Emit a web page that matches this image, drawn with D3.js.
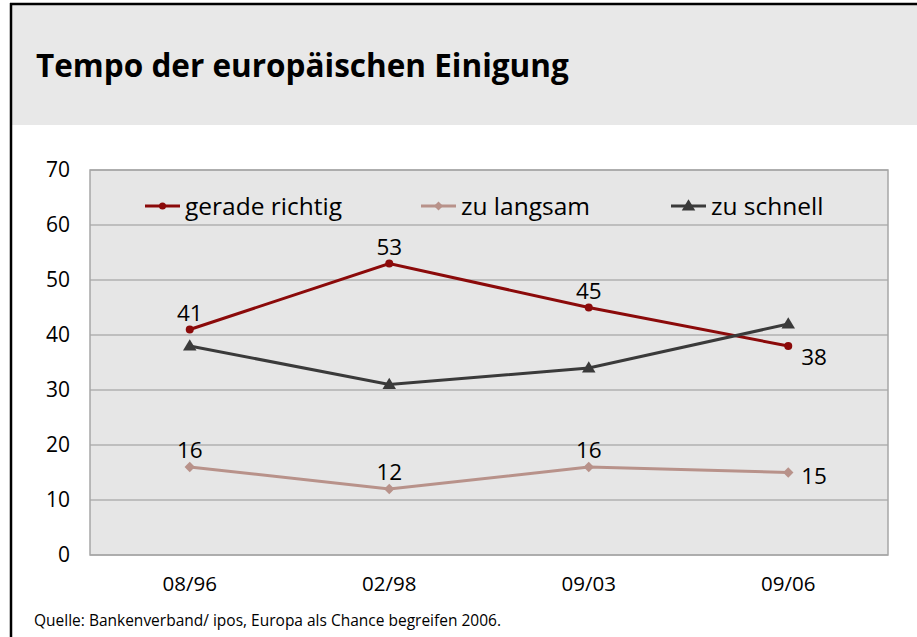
<!DOCTYPE html>
<html>
<head>
<meta charset="utf-8">
<script src="https://cdn.jsdelivr.net/npm/d3@7"></script>
<style>
  body { margin: 0; background: #fff; }
  svg { display: block; font-family: "Open Sans", "Noto Sans", sans-serif; }
</style>
</head>
<body>
<svg id="chart"></svg>
<script>
const categories = ["08/96", "02/98", "09/03", "09/06"];
const geradeRichtig = [41, 53, 45, 38];
const zuLangsam = [16, 12, 16, 15];
const zuSchnell = [38, 31, 34, 42];
const yTicks = [0, 10, 20, 30, 40, 50, 60, 70];

const width = 917;
const height = 637;
const plot = { left: 90, right: 888, top: 170, bottom: 555 };

// label placement: "above", "belowRight", "right"
const series = [
  { name: "gerade richtig", values: geradeRichtig, color: "#8b0a0a", marker: "circle", labels: ["above", "above", "above", "belowRight"] },
  { name: "zu langsam", values: zuLangsam, color: "#b8928a", marker: "diamond", labels: ["above", "above", "above", "right"] },
  { name: "zu schnell", values: zuSchnell, color: "#3a3a3a", marker: "triangle", labels: null }
];

const svg = d3.select("#chart").attr("width", width).attr("height", height);

// frame + header
svg.append("rect").attr("x", 12).attr("y", 5).attr("width", width - 12).attr("height", 120).attr("fill", "#e8e8e8");
svg.append("line").attr("x1", 10).attr("x2", width).attr("y1", 4).attr("y2", 4).attr("stroke", "#000").attr("stroke-width", 2.5);
svg.append("line").attr("x1", 11).attr("x2", 11).attr("y1", 3).attr("y2", height).attr("stroke", "#000").attr("stroke-width", 2.5);

svg.append("text")
  .attr("x", 36).attr("y", 77)
  .attr("font-size", 31.5).attr("font-weight", "bold")
  .attr("fill", "#000")
  .text("Tempo der europäischen Einigung");

const x = d3.scaleBand().domain(categories).range([plot.left, plot.right]).padding(0);
const y = d3.scaleLinear().domain([0, 70]).range([plot.bottom, plot.top]);
const cx = (c) => x(c) + x.bandwidth() / 2;

// plot background
svg.append("rect")
  .attr("x", plot.left).attr("y", plot.top)
  .attr("width", plot.right - plot.left).attr("height", plot.bottom - plot.top)
  .attr("fill", "#e6e6e6");

// gridlines
svg.append("g")
  .selectAll("line")
  .data(yTicks)
  .join("line")
  .attr("x1", plot.left).attr("x2", plot.right)
  .attr("y1", (d) => y(d)).attr("y2", (d) => y(d))
  .attr("stroke", "#b0b0b0").attr("stroke-width", 1.5);

svg.append("rect")
  .attr("x", plot.left).attr("y", plot.top)
  .attr("width", plot.right - plot.left).attr("height", plot.bottom - plot.top)
  .attr("fill", "none").attr("stroke", "#a6a6a6").attr("stroke-width", 1.5);

// Y-axis
const yAxis = svg.append("g")
  .attr("transform", `translate(${plot.left}, 0)`)
  .call(d3.axisLeft(y).tickValues(yTicks).tickSize(0).tickPadding(20));
yAxis.select(".domain").remove();
yAxis.selectAll("text").attr("font-size", 21).attr("font-family", "Open Sans, sans-serif").attr("fill", "#000").attr("dy", "0.32em");

// X-axis
const xAxis = svg.append("g")
  .attr("transform", `translate(0, ${plot.bottom})`)
  .call(d3.axisBottom(x).tickSize(0).tickPadding(21));
xAxis.select(".domain").remove();
xAxis.selectAll("text").attr("font-size", 20.5).attr("font-family", "Open Sans, sans-serif").attr("fill", "#000");

const line = d3.line().x((d, i) => cx(categories[i])).y((d) => y(d));

function marker(g, type, color, px, py, size) {
  if (type === "circle") {
    g.append("circle").attr("cx", px).attr("cy", py).attr("r", size).attr("fill", color);
  } else if (type === "diamond") {
    g.append("path").attr("d", `M${px},${py - size * 1.3}L${px + size * 1.3},${py}L${px},${py + size * 1.3}L${px - size * 1.3},${py}Z`).attr("fill", color);
  } else {
    g.append("path").attr("d", `M${px},${py - size * 1.5}L${px + size * 1.5},${py + size}L${px - size * 1.5},${py + size}Z`).attr("fill", color);
  }
}

const labelDx = { above: 0, belowRight: 13, right: 13 };
const labelDy = { above: -9, belowRight: 19, right: 4 };

series.forEach((s) => {
  const g = svg.append("g");
  g.append("path")
    .datum(s.values)
    .attr("d", line)
    .attr("fill", "none")
    .attr("stroke", s.color)
    .attr("stroke-width", 3);
  s.values.forEach((v, i) => {
    marker(g, s.marker, s.color, cx(categories[i]), y(v), s.marker === "triangle" ? 4.5 : 4);
  });
  if (s.labels) {
    g.selectAll("text")
      .data(s.values)
      .join("text")
      .attr("x", (d, i) => cx(categories[i]) + labelDx[s.labels[i]])
      .attr("y", (d, i) => y(d) + labelDy[s.labels[i]])
      .attr("dy", (d, i) => s.labels[i] === "right" ? "0.35em" : null)
      .attr("text-anchor", (d, i) => s.labels[i] === "above" ? "middle" : "start")
      .attr("font-size", 22.5)
      .attr("fill", "#000")
      .text((d) => d);
  }
});

// legend
const legendX = [145, 421, 671];
series.forEach((s, i) => {
  const g = svg.append("g").attr("transform", `translate(${legendX[i]}, 206)`);
  g.append("line").attr("x1", 0).attr("x2", 35).attr("y1", 0).attr("y2", 0).attr("stroke", s.color).attr("stroke-width", 3);
  marker(g, s.marker, s.color, 17.5, 0, s.marker === "triangle" ? 4.5 : 3.5);
  g.append("text").attr("x", 40).attr("y", 0).attr("dy", "0.35em").attr("font-size", 24.5).attr("fill", "#000").text(s.name);
});

svg.append("text")
  .attr("x", 34).attr("y", 626)
  .attr("font-size", 15.5)
  .attr("fill", "#000")
  .text("Quelle: Bankenverband/ ipos, Europa als Chance begreifen 2006.");
</script>
</body>
</html>
